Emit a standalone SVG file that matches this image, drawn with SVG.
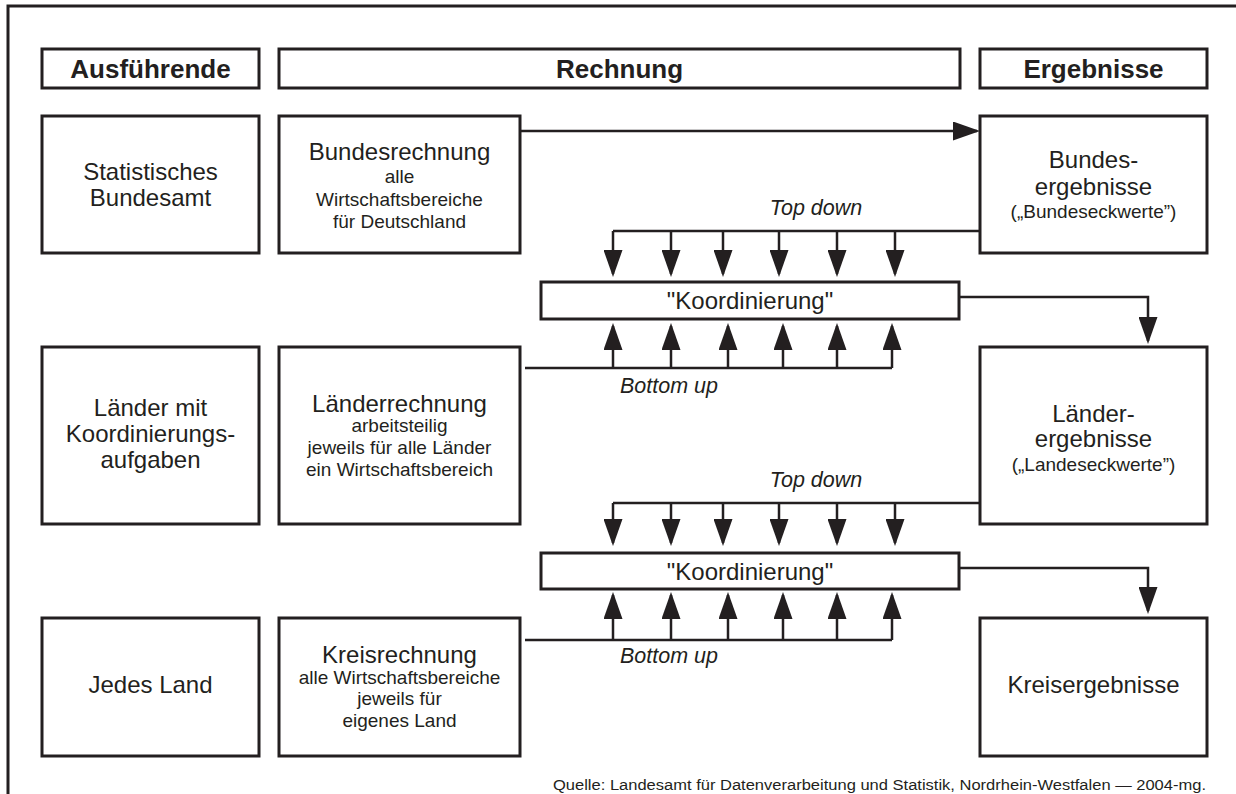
<svg xmlns="http://www.w3.org/2000/svg" width="1236" height="794" viewBox="0 0 1236 794">
<defs>
<style>
.box{fill:#fff;stroke:#231f20;stroke-width:3}
.ln{fill:none;stroke:#231f20;stroke-width:2.5}
.arr{fill:none;stroke:#231f20;stroke-width:2.5;marker-end:url(#ah)}
text{font-family:"Liberation Sans",Arial,sans-serif;fill:#231f20;text-anchor:middle}
.h{font-size:26px;font-weight:bold}
.m{font-size:24px}
.s{font-size:19px}
.i{font-size:21.5px;font-style:italic}
</style>
<marker id="ah" markerUnits="userSpaceOnUse" markerWidth="27" markerHeight="19" refX="24" refY="9.5" orient="auto" viewBox="0 0 27 19">
<path d="M0,0 L27,9.5 L0,19 Z" fill="#231f20"/>
</marker>
</defs>
<rect x="0" y="0" width="1236" height="794" fill="#fff"/>
<path class="ln" d="M8,794 V6 H1236" style="stroke-width:3"/>

<g id="hdr-ausfuehrende"><rect class="box" x="42" y="49" width="217" height="39"/><text class="h" x="150.5" y="78">Ausführende</text></g>
<g id="hdr-rechnung"><rect class="box" x="279" y="49" width="681" height="39"/><text class="h" x="619.5" y="78">Rechnung</text></g>
<g id="hdr-ergebnisse"><rect class="box" x="980" y="49" width="227" height="39"/><text class="h" x="1093.5" y="78">Ergebnisse</text></g>

<g id="statistisches-bundesamt"><rect class="box" x="42" y="116" width="217" height="137"/><text class="m" x="150.5" y="180">Statistisches</text><text class="m" x="150.5" y="206">Bundesamt</text></g>
<g id="bundesrechnung"><rect class="box" x="279" y="116" width="241" height="137"/><text class="m" x="399.5" y="160">Bundesrechnung</text><text class="s" x="399.5" y="183">alle</text><text class="s" x="399.5" y="206">Wirtschaftsbereiche</text><text class="s" x="399.5" y="228">für Deutschland</text></g>
<g id="bundesergebnisse"><rect class="box" x="980" y="116" width="227" height="137"/><text class="m" x="1093.5" y="168">Bundes-</text><text class="m" x="1093.5" y="195">ergebnisse</text><text class="s" x="1093.5" y="218">(„Bundeseckwerte”)</text></g>

<g id="koordinierung-1"><rect class="box" x="541" y="282" width="418" height="37"/><text class="m" x="750" y="309">"Koordinierung"</text></g>

<g id="laender-mit-koordinierungsaufgaben"><rect class="box" x="42" y="347" width="217" height="177"/><text class="m" x="150.5" y="416">Länder mit</text><text class="m" x="150.5" y="442">Koordinierungs-</text><text class="m" x="150.5" y="468">aufgaben</text></g>
<g id="laenderrechnung"><rect class="box" x="279" y="347" width="241" height="177"/><text class="m" x="399.5" y="412">Länderrechnung</text><text class="s" x="399.5" y="432">arbeitsteilig</text><text class="s" x="399.5" y="454">jeweils für alle Länder</text><text class="s" x="399.5" y="476">ein Wirtschaftsbereich</text></g>
<g id="laenderergebnisse"><rect class="box" x="980" y="347" width="227" height="177"/><text class="m" x="1093.5" y="422">Länder-</text><text class="m" x="1093.5" y="447">ergebnisse</text><text class="s" x="1093.5" y="471">(„Landeseckwerte”)</text></g>

<g id="koordinierung-2"><rect class="box" x="541" y="553" width="418" height="36"/><text class="m" x="750" y="580">"Koordinierung"</text></g>

<g id="jedes-land"><rect class="box" x="42" y="618" width="217" height="138"/><text class="m" x="150.5" y="693">Jedes Land</text></g>
<g id="kreisrechnung"><rect class="box" x="279" y="618" width="241" height="138"/><text class="m" x="399.5" y="663">Kreisrechnung</text><text class="s" x="399.5" y="684">alle Wirtschaftsbereiche</text><text class="s" x="399.5" y="705">jeweils für</text><text class="s" x="399.5" y="727">eigenes Land</text></g>
<g id="kreisergebnisse"><rect class="box" x="980" y="618" width="227" height="138"/><text class="m" x="1093.5" y="693">Kreisergebnisse</text></g>

<g id="connectors">
<path class="arr" d="M520,131 H977"/>
<path class="ln" d="M980,231 H613"/>
<path class="arr" d="M613,231 V274"/><path class="arr" d="M671,231 V274"/><path class="arr" d="M723,231 V274"/><path class="arr" d="M779,231 V274"/><path class="arr" d="M837,231 V274"/><path class="arr" d="M895,231 V274"/>
<path class="ln" d="M525,368 H892"/>
<path class="arr" d="M613,368 V326"/><path class="arr" d="M671,368 V326"/><path class="arr" d="M728,368 V326"/><path class="arr" d="M783,368 V326"/><path class="arr" d="M837,368 V326"/><path class="arr" d="M892,368 V326"/>
<path class="arr" d="M959,297 H1148 V341"/>
<path class="ln" d="M980,503 H613"/>
<path class="arr" d="M613,503 V543"/><path class="arr" d="M671,503 V543"/><path class="arr" d="M723,503 V543"/><path class="arr" d="M779,503 V543"/><path class="arr" d="M837,503 V543"/><path class="arr" d="M895,503 V543"/>
<path class="ln" d="M525,640 H892"/>
<path class="arr" d="M613,640 V595"/><path class="arr" d="M671,640 V595"/><path class="arr" d="M728,640 V595"/><path class="arr" d="M783,640 V595"/><path class="arr" d="M837,640 V595"/><path class="arr" d="M892,640 V595"/>
<path class="arr" d="M959,568 H1148 V611"/>
</g>

<g id="labels">
<text class="i" x="816" y="215">Top down</text>
<text class="i" x="669" y="393">Bottom up</text>
<text class="i" x="816" y="487">Top down</text>
<text class="i" x="669" y="663">Bottom up</text>
<text x="1206" y="790" style="font-size:14px;text-anchor:end" textLength="653" lengthAdjust="spacingAndGlyphs">Quelle: Landesamt für Datenverarbeitung und Statistik, Nordrhein-Westfalen — 2004-mg.</text>
</g>
</svg>
